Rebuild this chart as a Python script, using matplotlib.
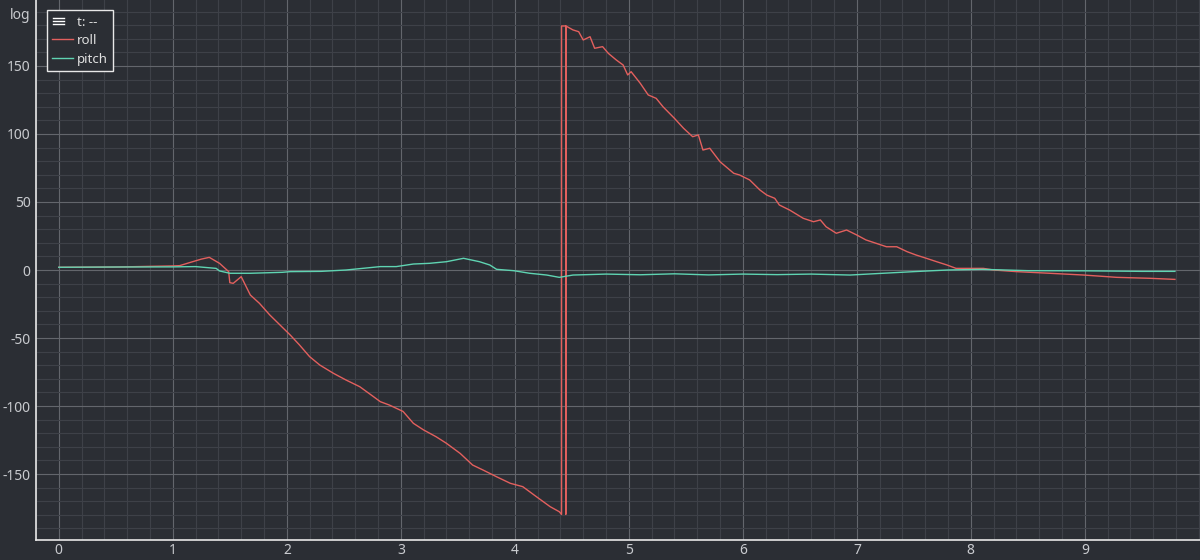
import numpy as np
import matplotlib
matplotlib.use("Agg")
import matplotlib.pyplot as plt
from matplotlib.lines import Line2D
from matplotlib.legend_handler import HandlerBase
from matplotlib.ticker import MultipleLocator

plt.rcParams['font.family'] = ['Noto Sans', 'DejaVu Sans']
plt.rcParams['axes.unicode_minus'] = False

# roll trace (x in s, y in deg)
roll_x = [0.00, 0.50, 1.00, 1.06, 1.15, 1.25, 1.32, 1.41, 1.49, 1.50, 1.53, 1.60,
          1.68, 1.76, 1.85, 1.94, 2.03, 2.11, 2.20, 2.29, 2.41, 2.52, 2.64, 2.76,
          2.82, 2.90, 3.02, 3.11, 3.20, 3.31, 3.40, 3.52, 3.63, 3.72, 3.84, 3.96,
          4.07, 4.19, 4.31, 4.39, 4.41, 4.41, 4.447, 4.447, 4.448,
          4.51, 4.56, 4.60, 4.66, 4.70, 4.77, 4.82, 4.89, 4.95, 4.99, 5.02, 5.10,
          5.17, 5.24, 5.30, 5.40, 5.48, 5.56, 5.61, 5.65, 5.71, 5.80, 5.92, 5.97,
          6.06, 6.15, 6.21, 6.28, 6.32, 6.41, 6.53, 6.62, 6.68, 6.73, 6.82, 6.91,
          7.00, 7.08, 7.17, 7.26, 7.35, 7.44, 7.52, 7.61, 7.70, 7.79, 7.87, 7.99,
          8.11, 8.20, 8.40, 8.69, 8.99, 9.28, 9.57, 9.79]
roll_y = [2.0, 2.2, 3.0, 3.2, 5.5, 8.0, 9.3, 4.9, -1.2, -9.3, -9.8, -4.9,
          -18.4, -24.5, -33.0, -40.4, -47.8, -55.0, -63.7, -69.9, -76.0, -80.9, -85.8, -93.1,
          -96.8, -99.3, -104.0, -112.7, -117.6, -122.6, -127.4, -134.8, -143.4, -147.0, -152.0, -156.8,
          -159.3, -166.7, -174.0, -177.7, -179.7, 179.4, 179.4, -179.7, 179.4,
          176.5, 175.2, 169.1, 171.5, 163.0, 164.2, 159.3, 154.4, 150.7, 143.4, 145.8, 137.3,
          128.7, 126.2, 120.0, 111.5, 104.2, 98.0, 99.3, 88.2, 89.5, 79.6, 71.1, 69.9,
          66.2, 58.8, 55.1, 52.7, 47.8, 44.1, 38.0, 35.5, 36.8, 31.8, 27.0, 29.4,
          25.7, 22.1, 19.6, 17.1, 17.1, 13.5, 11.0, 8.6, 6.1, 3.7, 1.2, 1.2,
          1.2, 0.0, -1.2, -2.4, -3.7, -5.4, -6.1, -6.9]

# pitch trace
pitch_x = [0.00, 0.50, 1.00, 1.20, 1.38, 1.41, 1.50, 1.68, 1.96, 2.03, 2.30, 2.52,
           2.82, 2.96, 3.11, 3.25, 3.40, 3.55, 3.69, 3.78, 3.84, 3.99, 4.13, 4.28,
           4.39, 4.51, 4.80, 5.10, 5.40, 5.70, 6.00, 6.30, 6.60, 6.94, 7.23, 7.50,
           7.67, 7.80, 8.10, 8.50, 9.00, 9.50, 9.79]
pitch_y = [2.0, 2.2, 2.3, 2.5, 1.2, -0.7, -2.4, -2.4, -1.7, -1.2, -1.0, 0.0,
           2.5, 2.5, 4.4, 4.9, 6.1, 8.6, 6.1, 3.7, 0.5, -0.5, -2.4, -3.7,
           -5.4, -3.7, -3.0, -3.5, -2.8, -3.6, -3.0, -3.4, -3.0, -3.7, -2.4, -1.2,
           -0.5, 0.0, 0.5, -0.5, -0.6, -1.0, -1.0]

x_ticks = list(range(0, 10))
y_ticks = [-150, -100, -50, 0, 50, 100, 150]

bg = '#2b2e34'
roll_color = '#e3605e'
pitch_color = '#5fd4b2'
text_color = '#c9cbcf'


class MenuIcon(HandlerBase):
    # three short white bars, like the hamburger icon in the legend header
    def create_artists(self, legend, orig_handle, xdescent, ydescent,
                       width, height, fontsize, trans):
        bars = []
        w = width * 0.5
        for k in (-0.35, 0.0, 0.35):
            y = height / 2 + k * height
            bars.append(Line2D([0.05 * width, 0.05 * width + w], [y, y],
                               color='white', lw=1.0, transform=trans))
        return bars


fig = plt.figure(figsize=(12, 5.6), dpi=100, facecolor=bg)
ax = fig.add_axes([0.03, 0.0357, 0.97, 0.9643], facecolor=bg)

ax.plot(roll_x, roll_y, color=roll_color, lw=1.0, label='roll', zorder=3)
ax.plot(pitch_x, pitch_y, color=pitch_color, lw=1.0, label='pitch', zorder=3)

ax.set_xlim(-0.2, 10.01)
ax.set_ylim(-198.5, 198.5)
ax.set_xticks(x_ticks)
ax.set_yticks(y_ticks)
ax.xaxis.set_minor_locator(MultipleLocator(0.2))
ax.yaxis.set_minor_locator(MultipleLocator(10))
ax.grid(which='major', color='#63666c', lw=0.8, zorder=1)
ax.grid(which='minor', color='#3e4148', lw=0.8, zorder=0)
ax.tick_params(which='both', length=0, colors=text_color, labelsize=10)
ax.tick_params(axis='x', pad=2)
ax.tick_params(axis='y', pad=4)
for side in ('top', 'right'):
    ax.spines[side].set_visible(False)
for side in ('left', 'bottom'):
    ax.spines[side].set_color('#e8e8e8')
    ax.spines[side].set_linewidth(1.2)

fig.text(0.008, 0.972, 'log', color=text_color, fontsize=10, va='center')

menu = object()
handles = [menu,
           Line2D([], [], color=roll_color, lw=1.0),
           Line2D([], [], color=pitch_color, lw=1.0)]
labels = ['t: --', 'roll', 'pitch']
leg = ax.legend(handles, labels, loc='upper left', bbox_to_anchor=(0.0095, 0.981),
                handler_map={menu: MenuIcon()},
                frameon=True, fancybox=False, facecolor=bg, edgecolor='#e8e8e8',
                fontsize=9.5, handlelength=1.55, handletextpad=0.3,
                labelspacing=0.42, borderpad=0.4, borderaxespad=0)
leg.get_frame().set_linewidth(1.0)
leg.get_frame().set_alpha(1.0)
for t in leg.get_texts():
    t.set_color('#e0e0e0')

fig.savefig('out.png', dpi=100, facecolor=bg)
